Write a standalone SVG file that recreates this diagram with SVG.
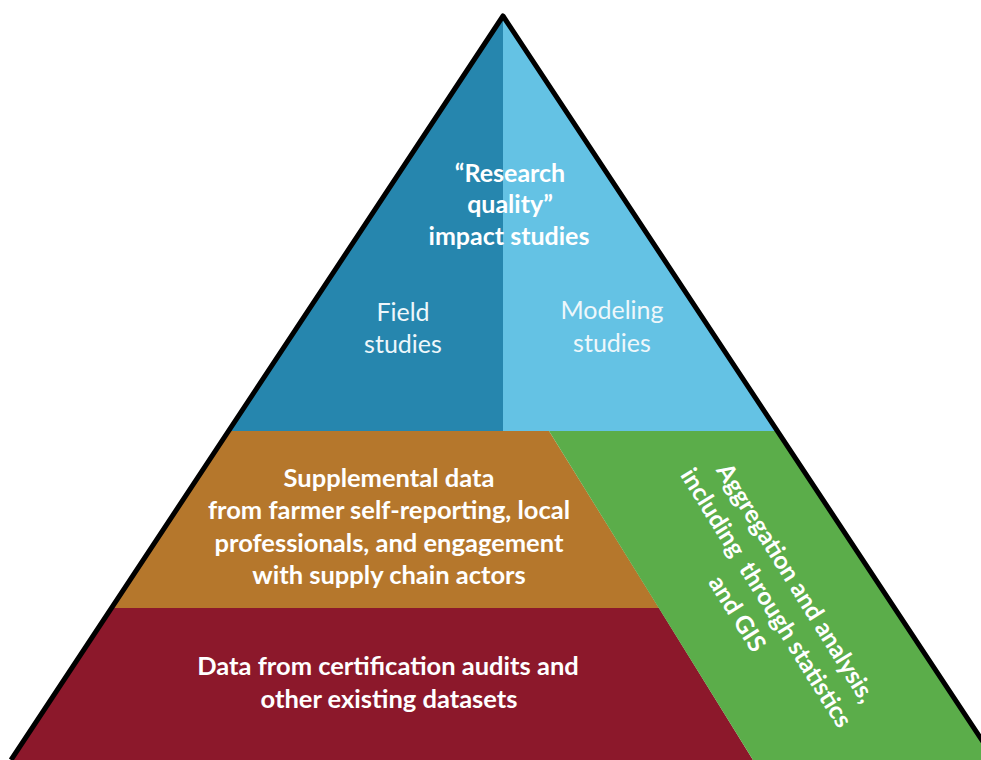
<svg xmlns="http://www.w3.org/2000/svg" width="981" height="760" viewBox="0 0 981 760">
  <style>
    .lbl { font-family: Lato, "Open Sans", "Liberation Sans", sans-serif; fill: #ffffff; text-anchor: middle; }
    .b { font-weight: bold; font-size: 25.5px; }
    .t { font-weight: bold; font-size: 25px; }
    .g { font-weight: bold; font-size: 24.5px; }
    .r { font-weight: normal; font-size: 25px; fill: #eef7fb; }
  </style>
  <rect width="981" height="760" fill="#ffffff"/>

  <!-- tier: field studies (left half of the top tier) -->
  <g id="field-studies">
    <polygon points="503,16 503,431 229,431" fill="#2686ae"/>
    <text class="lbl r" x="403" y="321">Field</text>
    <text class="lbl r" x="403" y="353">studies</text>
  </g>

  <!-- tier: modeling studies (right half of the top tier) -->
  <g id="modeling-studies">
    <polygon points="503,16 777,431 503,431" fill="#64c2e4"/>
    <text class="lbl r" x="612" y="319">Modeling</text>
    <text class="lbl r" x="612" y="352">studies</text>
  </g>

  <!-- heading for the top tier -->
  <g id="research-quality">
    <text class="lbl t" x="510" y="182">“Research</text>
    <text class="lbl t" x="510" y="213">quality”</text>
    <text class="lbl t" x="509" y="245">impact studies</text>
  </g>

  <!-- tier: supplemental data -->
  <g id="supplemental-data">
    <polygon points="229,431 549,431 659,608 112,608" fill="#b5772c"/>
    <text class="lbl b" x="389" y="487">Supplemental data</text>
    <text class="lbl b" x="389" y="519">from farmer self-reporting, local</text>
    <text class="lbl b" x="389" y="552">professionals, and engagement</text>
    <text class="lbl b" x="389" y="584">with supply chain actors</text>
  </g>

  <!-- tier: certification audit data -->
  <g id="certification-data">
    <polygon points="112,608 659,608 753,760 11,760" fill="#8c182b"/>
    <text class="lbl b" x="388" y="675">Data from certification audits and</text>
    <text class="lbl b" x="389" y="708">other existing datasets</text>
  </g>

  <!-- slanted band: aggregation and analysis -->
  <g id="aggregation">
    <polygon points="549,431 777,431 995,760 753,760" fill="#5bad4a"/>
    <g transform="translate(766,598) rotate(58)">
      <text class="lbl g" x="3" y="-25">Aggregation and analysis,</text>
      <text class="lbl g" x="0" y="8" style="white-space:pre">including  through statistics</text>
      <text class="lbl g" x="-2" y="41">and GIS</text>
    </g>
  </g>

  <!-- pyramid outline -->
  <g id="connectors">
    <polyline points="11,760 503,16 995,760" fill="none" stroke="#000000" stroke-width="5" stroke-linejoin="round"/>
  </g>
</svg>
